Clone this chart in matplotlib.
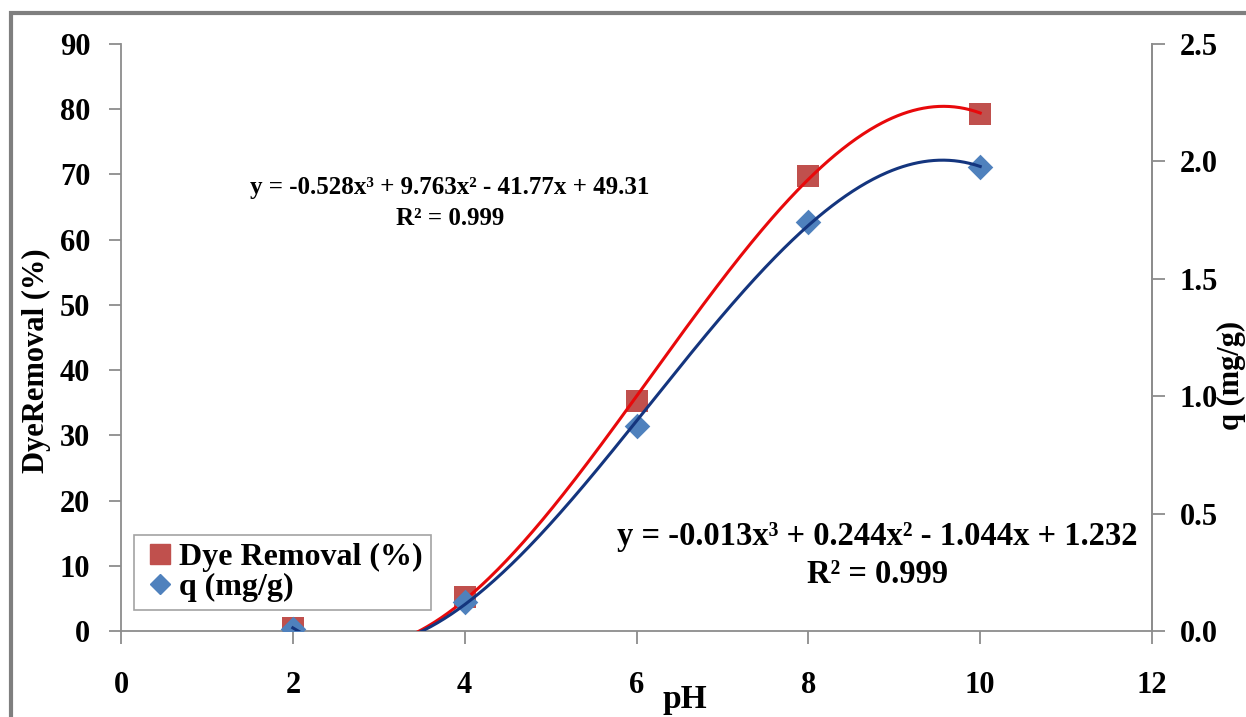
import numpy as np
import matplotlib.pyplot as plt
from matplotlib.patches import Rectangle
from matplotlib.lines import Line2D

plt.rcParams['font.family'] = ['Liberation Serif', 'DejaVu Serif']

# data
ph = [2, 4, 6, 8, 10]
dye_removal = [0.5, 5.2, 35.3, 69.7, 79.3]   # %
q_values = [0.01, 0.125, 0.875, 1.74, 1.975]   # mg/g

x_ticks = [0, 2, 4, 6, 8, 10, 12]
left_ticks = [0, 10, 20, 30, 40, 50, 60, 70, 80, 90]
right_ticks = [0.0, 0.5, 1.0, 1.5, 2.0, 2.5]

dye_eq = 'y = -0.528x³ + 9.763x² - 41.77x + 49.31\nR² = 0.999'
q_eq = 'y = -0.013x³ + 0.244x² - 1.044x + 1.232\nR² = 0.999'

red_mk = '#C0504D'
blue_mk = '#4F81BD'
red_ln = '#E8090B'
blue_ln = '#14357E'
axis_gray = '#8C8C8C'

fig = plt.figure(figsize=(12.46, 7.17), dpi=100)
ax = fig.add_axes([0.0971, 0.120, 0.8275, 0.8187])
ax2 = ax.twinx()

# outer chart frame (partly cropped in the original)
fig.patches.append(Rectangle((0.009, -0.05), 1.1, 1.032, transform=fig.transFigure,
                             fill=False, edgecolor='#7F7F7F', lw=3))

# cubic trendlines fitted to the points
xs = np.linspace(min(ph), max(ph), 400)
ax.plot(xs, np.polyval(np.polyfit(ph, dye_removal, 3), xs), color=red_ln, lw=2.2, zorder=3)
ax2.plot(xs, np.polyval(np.polyfit(ph, q_values, 3), xs), color=blue_ln, lw=2.2, zorder=3)

ax.scatter(ph, dye_removal, marker='s', s=260, color=red_mk, zorder=2, linewidths=0)
ax2.scatter(ph, q_values, marker='D', s=170, color=blue_mk, zorder=2, linewidths=0)

ax.set_xlim(0, 12)
ax.set_ylim(0, 90)
ax2.set_ylim(0, 2.5)
ax.set_xticks(x_ticks)
ax.set_yticks(left_ticks)
ax2.set_yticks(right_ticks)
ax2.set_yticklabels([f'{v:.1f}' for v in right_ticks])

for a in (ax, ax2):
    for s in a.spines.values():
        s.set_color(axis_gray)
        s.set_linewidth(1.3)
    a.spines['top'].set_visible(False)
    a.tick_params(colors=axis_gray, width=1.3, length=9, labelcolor='black',
                  labelsize=22)
ax2.spines['left'].set_visible(False)
ax2.spines['bottom'].set_visible(False)
for lbl in ax.get_xticklabels() + ax.get_yticklabels() + ax2.get_yticklabels():
    lbl.set_fontweight('bold')
ax.tick_params(axis='x', pad=20)
ax.tick_params(axis='y', pad=13)
ax2.tick_params(axis='y', pad=11)

ax.set_xlabel('pH', fontsize=24, fontweight='bold')
ax.xaxis.set_label_coords(0.547, -0.09)
ax.set_ylabel('DyeRemoval (%)', fontsize=22, fontweight='bold')
ax.yaxis.set_label_coords(-0.068, 0.46)
ax2.set_ylabel('q (mg/g)', fontsize=22, fontweight='bold', rotation=90, va='center')
ax2.yaxis.set_label_coords(1.077, 0.436)

ax.text(3.83, 65.6, dye_eq, fontsize=18, fontweight='bold', ha='center', va='center',
        linespacing=1.45)
ax2.text(8.8, 0.32, q_eq, fontsize=23.5, fontweight='bold', ha='center', va='center',
         linespacing=1.3)

handles = [Line2D([], [], marker='s', ls='none', color=red_mk, markersize=15),
           Line2D([], [], marker='D', ls='none', color=blue_mk, markersize=10)]
leg = ax.legend(handles, ['Dye Removal (%)', 'q (mg/g)'], loc='lower left',
                bbox_to_anchor=(0.013, 0.036), prop={'size': 23, 'weight': 'bold'},
                frameon=True, fancybox=False, borderpad=0.25, handletextpad=0.05,
                labelspacing=0.0, handlelength=1.1, borderaxespad=0)
leg.get_frame().set_edgecolor(axis_gray)
leg.get_frame().set_linewidth(1.2)

fig.savefig('out.png', dpi=100)
